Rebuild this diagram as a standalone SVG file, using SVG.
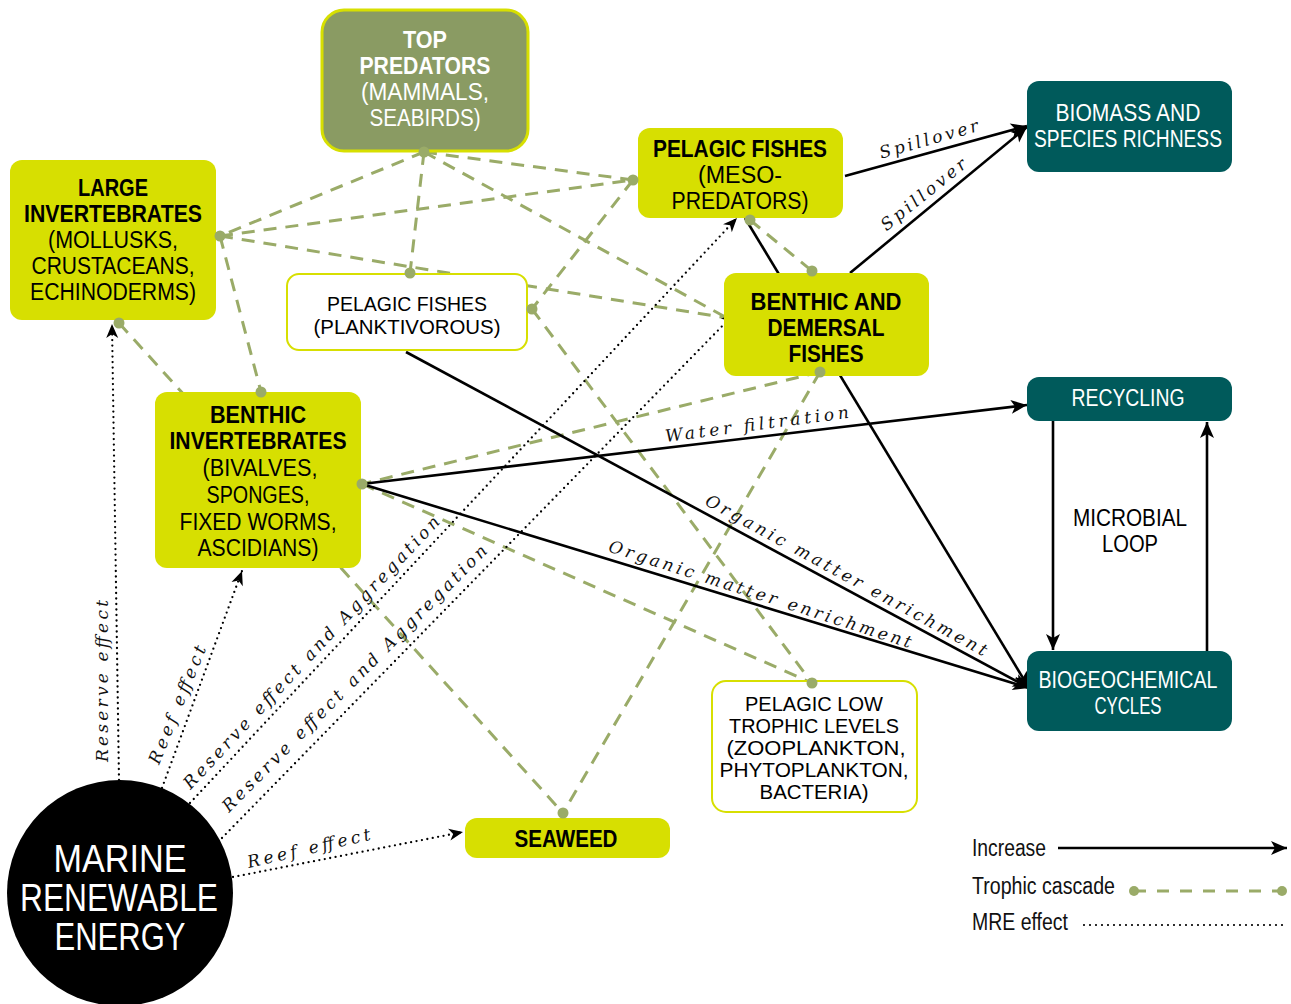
<svg xmlns="http://www.w3.org/2000/svg" width="1291" height="1004" viewBox="0 0 1291 1004">
<defs>
<style>
.node{font-family:"Liberation Sans",Arial,sans-serif;font-size:23px;text-anchor:middle}
.b{font-weight:bold}
.yl{fill:#d7df01}
.wh{fill:#ffffff;stroke:#d7df01;stroke-width:2}
.teal{fill:#005a5b}
.tw{fill:#ffffff}
.inc{fill:none;stroke:#000;stroke-width:2.6;marker-end:url(#ah)}
.mre{fill:none;stroke:#000;stroke-width:2.3;stroke-dasharray:0 5.5;stroke-linecap:round;marker-end:url(#ah2)}
.tc{fill:none;stroke:#9aab68;stroke-width:3;stroke-dasharray:13 9}
.dot{fill:#9aab68}
.lab{font-family:"DejaVu Serif","Liberation Serif",serif;font-style:italic;font-size:17px;text-anchor:middle;fill:#111}
.leg{font-family:"Liberation Sans",sans-serif;font-size:23px;fill:#111}
</style>
<marker id="ah" markerUnits="userSpaceOnUse" markerWidth="20" markerHeight="14" refX="16" refY="7" orient="auto" overflow="visible">
<path d="M0,0 L16,7 L0,14 L4,7 z" fill="#000"/>
</marker>
<marker id="ah2" markerUnits="userSpaceOnUse" markerWidth="16" markerHeight="12" refX="14" refY="6" orient="auto" overflow="visible">
<path d="M0,0 L14,6 L0,12 L4,6 z" fill="#000"/>
</marker>
</defs>
<rect width="1291" height="1004" fill="#ffffff"/>

<g id="connectors">
<line class="tc" x1="424" y1="152" x2="220" y2="236"/>
<line class="tc" x1="424" y1="152" x2="633" y2="180"/>
<line class="tc" x1="424" y1="152" x2="410" y2="273"/>
<line class="tc" x1="424" y1="152" x2="727" y2="318"/>
<line class="tc" x1="220" y1="236" x2="633" y2="180"/>
<line class="tc" x1="220" y1="236" x2="727" y2="318"/>
<line class="tc" x1="220" y1="236" x2="261" y2="392"/>
<line class="tc" x1="119" y1="323" x2="563" y2="813"/>
<line class="tc" x1="633" y1="180" x2="532" y2="309"/>
<line class="tc" x1="532" y1="309" x2="812" y2="683"/>
<line class="tc" x1="750" y1="220" x2="812" y2="271"/>
<line class="tc" x1="820" y1="372" x2="362" y2="484"/>
<line class="tc" x1="820" y1="372" x2="563" y2="813"/>
<line class="tc" x1="362" y1="484" x2="812" y2="683"/>
<line class="inc" x1="845" y1="176" x2="1027" y2="126"/>
<line class="inc" x1="850" y1="273" x2="1027" y2="127"/>
<line class="inc" x1="745" y1="218" x2="1029" y2="688"/>
<line class="inc" x1="406" y1="352" x2="1029" y2="688"/>
<line class="inc" x1="362" y1="484" x2="1029" y2="688"/>
<line class="inc" x1="362" y1="484" x2="1027" y2="405"/>
<line class="inc" x1="1053" y1="421" x2="1053" y2="650"/>
<line class="inc" x1="1207" y1="651" x2="1207" y2="422"/>
<line class="mre" x1="119" y1="780" x2="112" y2="324"/>
<line class="mre" x1="162" y1="788" x2="242" y2="571"/>
<line class="mre" x1="190" y1="803" x2="737" y2="218"/>
<line class="mre" x1="222" y1="838" x2="735" y2="313"/>
<line class="mre" x1="233" y1="877" x2="463" y2="832"/>
<text class="lab" transform="translate(929,140) rotate(-16)" y="5" textLength="102" lengthAdjust="spacing">Spillover</text>
<text class="lab" transform="translate(924,195) rotate(-38.8)" y="5" textLength="104" lengthAdjust="spacing">Spillover</text>
<text class="lab" transform="translate(757,425) rotate(-7.5)" y="5" textLength="185" lengthAdjust="spacing">Water filtration</text>
<text class="lab" transform="translate(846,576) rotate(28.6)" y="5" textLength="318" lengthAdjust="spacing">Organic matter enrichment</text>
<text class="lab" transform="translate(760,595) rotate(17.8)" y="5" textLength="317" lengthAdjust="spacing">Organic matter enrichment</text>
<text class="lab" transform="translate(103,681) rotate(-90)" y="5" textLength="162" lengthAdjust="spacing">Reserve effect</text>
<text class="lab" transform="translate(178,705) rotate(-68)" y="5" textLength="126" lengthAdjust="spacing">Reef effect</text>
<text class="lab" transform="translate(312,653) rotate(-46.9)" y="5" textLength="366" lengthAdjust="spacing">Reserve effect and Aggregation</text>
<text class="lab" transform="translate(355,679) rotate(-45.2)" y="5" textLength="368" lengthAdjust="spacing">Reserve effect and Aggregation</text>
<text class="lab" transform="translate(309,849) rotate(-13)" y="5" textLength="126" lengthAdjust="spacing">Reef effect</text>
</g>

<g id="top-predators">
<rect x="322" y="10" width="206" height="141" rx="22" fill="#8a9b63" stroke="#d7df01" stroke-width="3"/>
<text class="node tw"><tspan class="b" x="425" y="48" textLength="44" lengthAdjust="spacingAndGlyphs">TOP</tspan><tspan class="b" x="425" y="74" textLength="131" lengthAdjust="spacingAndGlyphs">PREDATORS</tspan><tspan x="425" y="100" textLength="128" lengthAdjust="spacingAndGlyphs">(MAMMALS,</tspan><tspan x="425" y="126" textLength="111" lengthAdjust="spacingAndGlyphs">SEABIRDS)</tspan></text>
</g>
<g id="large-invertebrates">
<rect class="yl" x="10" y="160" width="206" height="160" rx="12"/>
<text class="node"><tspan class="b" x="113" y="196" textLength="70" lengthAdjust="spacingAndGlyphs">LARGE</tspan><tspan class="b" x="113" y="222" textLength="178" lengthAdjust="spacingAndGlyphs">INVERTEBRATES</tspan><tspan x="113" y="248" textLength="130" lengthAdjust="spacingAndGlyphs">(MOLLUSKS,</tspan><tspan x="113" y="274" textLength="163" lengthAdjust="spacingAndGlyphs">CRUSTACEANS,</tspan><tspan x="113" y="300" textLength="166" lengthAdjust="spacingAndGlyphs">ECHINODERMS)</tspan></text>
</g>
<g id="pelagic-planktivorous">
<rect class="wh" x="287" y="274" width="240" height="76" rx="12"/>
<text class="node" style="font-size:20.5px"><tspan x="407" y="311" textLength="160" lengthAdjust="spacingAndGlyphs">PELAGIC FISHES</tspan><tspan x="407" y="334" textLength="187" lengthAdjust="spacingAndGlyphs">(PLANKTIVOROUS)</tspan></text>
</g>
<g id="pelagic-meso">
<rect class="yl" x="638" y="128" width="205" height="90" rx="12"/>
<text class="node"><tspan class="b" x="740" y="157" textLength="174" lengthAdjust="spacingAndGlyphs">PELAGIC FISHES</tspan><tspan x="740" y="183" textLength="84" lengthAdjust="spacingAndGlyphs">(MESO-</tspan><tspan x="740" y="209" textLength="137" lengthAdjust="spacingAndGlyphs">PREDATORS)</tspan></text>
</g>
<g id="benthic-demersal">
<rect class="yl" x="724" y="273" width="205" height="103" rx="12"/>
<text class="node b"><tspan x="826" y="310" textLength="151" lengthAdjust="spacingAndGlyphs">BENTHIC AND</tspan><tspan x="826" y="336" textLength="117" lengthAdjust="spacingAndGlyphs">DEMERSAL</tspan><tspan x="826" y="362" textLength="75" lengthAdjust="spacingAndGlyphs">FISHES</tspan></text>
</g>
<g id="benthic-invertebrates">
<rect class="yl" x="155" y="392" width="206" height="176" rx="12"/>
<text class="node"><tspan class="b" x="258" y="423" textLength="96" lengthAdjust="spacingAndGlyphs">BENTHIC</tspan><tspan class="b" x="258" y="449" textLength="177" lengthAdjust="spacingAndGlyphs">INVERTEBRATES</tspan><tspan x="260" y="476" textLength="115" lengthAdjust="spacingAndGlyphs">(BIVALVES,</tspan><tspan x="258" y="503" textLength="103" lengthAdjust="spacingAndGlyphs">SPONGES,</tspan><tspan x="258" y="530" textLength="157" lengthAdjust="spacingAndGlyphs">FIXED WORMS,</tspan><tspan x="258" y="556" textLength="121" lengthAdjust="spacingAndGlyphs">ASCIDIANS)</tspan></text>
</g>
<g id="seaweed">
<rect class="yl" x="465" y="818" width="205" height="40" rx="12"/>
<text class="node b" x="566" y="847" textLength="103" lengthAdjust="spacingAndGlyphs">SEAWEED</text>
</g>
<g id="pelagic-low">
<rect class="wh" x="712" y="681" width="205" height="131" rx="14"/>
<text class="node" style="font-size:19.3px"><tspan x="814" y="711" textLength="138" lengthAdjust="spacingAndGlyphs">PELAGIC LOW</tspan><tspan x="814" y="733" textLength="170" lengthAdjust="spacingAndGlyphs">TROPHIC LEVELS</tspan><tspan x="816" y="755" textLength="179" lengthAdjust="spacingAndGlyphs">(ZOOPLANKTON,</tspan><tspan x="814" y="777" textLength="189" lengthAdjust="spacingAndGlyphs">PHYTOPLANKTON,</tspan><tspan x="814" y="799" textLength="109" lengthAdjust="spacingAndGlyphs">BACTERIA)</tspan></text>
</g>
<g id="biomass">
<rect class="teal" x="1027" y="81" width="205" height="91" rx="12"/>
<text class="node tw"><tspan x="1128" y="121" textLength="145" lengthAdjust="spacingAndGlyphs">BIOMASS AND</tspan><tspan x="1128" y="147" textLength="188" lengthAdjust="spacingAndGlyphs">SPECIES RICHNESS</tspan></text>
</g>
<g id="recycling">
<rect class="teal" x="1027" y="377" width="205" height="44" rx="12"/>
<text class="node tw" x="1128" y="406" textLength="113" lengthAdjust="spacingAndGlyphs">RECYCLING</text>
</g>
<g id="biogeochemical">
<rect class="teal" x="1027" y="651" width="205" height="80" rx="12"/>
<text class="node tw"><tspan x="1128" y="688" textLength="179" lengthAdjust="spacingAndGlyphs">BIOGEOCHEMICAL</tspan><tspan x="1128" y="714" textLength="67" lengthAdjust="spacingAndGlyphs">CYCLES</tspan></text>
</g>
<g id="microbial-loop">
<text class="node"><tspan x="1130" y="526" textLength="114" lengthAdjust="spacingAndGlyphs">MICROBIAL</tspan><tspan x="1130" y="552" textLength="56" lengthAdjust="spacingAndGlyphs">LOOP</tspan></text>
</g>
<g id="mre">
<circle cx="120" cy="893" r="113" fill="#000"/>
<text class="node tw" style="font-size:39px"><tspan x="120" y="872" textLength="133" lengthAdjust="spacingAndGlyphs">MARINE</tspan><tspan x="119" y="911" textLength="198" lengthAdjust="spacingAndGlyphs">RENEWABLE</tspan><tspan x="120" y="950" textLength="131" lengthAdjust="spacingAndGlyphs">ENERGY</tspan></text>
</g>
<g id="legend">
<text class="leg" x="972" y="856" textLength="74" lengthAdjust="spacingAndGlyphs">Increase</text>
<line class="inc" x1="1058" y1="848" x2="1287" y2="848"/>
<text class="leg" x="972" y="894" textLength="143" lengthAdjust="spacingAndGlyphs">Trophic cascade</text>
<line class="tc" x1="1134" y1="891" x2="1282" y2="891" style="stroke-dasharray:12 11"/>
<circle class="dot" cx="1134" cy="891" r="5"/>
<circle class="dot" cx="1282" cy="891" r="5"/>
<text class="leg" x="972" y="930" textLength="96" lengthAdjust="spacingAndGlyphs">MRE effect</text>
<line x1="1084" y1="925" x2="1288" y2="925" stroke="#000" stroke-width="2.2" stroke-dasharray="0 6" stroke-linecap="round"/>
</g>
<g id="dots">
<circle class="dot" cx="424" cy="152" r="5.5"/>
<circle class="dot" cx="220" cy="236" r="5.5"/>
<circle class="dot" cx="633" cy="180" r="5.5"/>
<circle class="dot" cx="410" cy="273" r="5.5"/>
<circle class="dot" cx="532" cy="309" r="5.5"/>
<circle class="dot" cx="119" cy="323" r="5.5"/>
<circle class="dot" cx="261" cy="392" r="5.5"/>
<circle class="dot" cx="362" cy="484" r="5.5"/>
<circle class="dot" cx="750" cy="220" r="5.5"/>
<circle class="dot" cx="812" cy="271" r="5.5"/>
<circle class="dot" cx="820" cy="372" r="5.5"/>
<circle class="dot" cx="563" cy="813" r="5.5"/>
<circle class="dot" cx="812" cy="683" r="5.5"/>
</g>
</svg>
